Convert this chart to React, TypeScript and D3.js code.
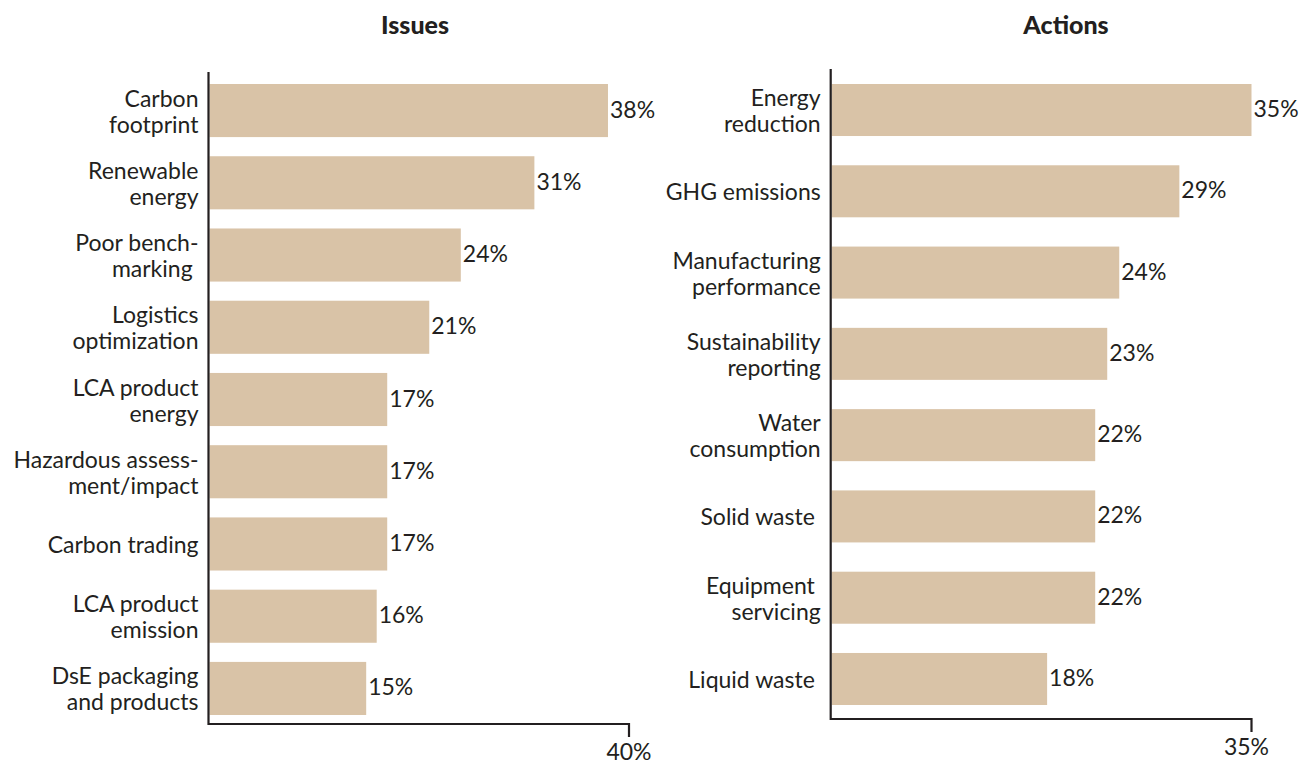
import React from "react";
import * as d3 from "d3";

const issueLabels = [
  ["Carbon", "footprint"],
  ["Renewable", "energy"],
  ["Poor bench-", "marking\u00A0"],
  ["Logistics", "optimization"],
  ["LCA product", "energy"],
  ["Hazardous assess-", "ment/impact"],
  ["Carbon trading"],
  ["LCA product", "emission"],
  ["DsE packaging", "and products"],
];
const issueValues = [38, 31, 24, 21, 17, 17, 17, 16, 15];

const actionLabels = [
  ["Energy", "reduction"],
  ["GHG emissions"],
  ["Manufacturing", "performance"],
  ["Sustainability", "reporting"],
  ["Water", "consumption"],
  ["Solid waste\u00A0"],
  ["Equipment\u00A0", "servicing"],
  ["Liquid waste\u00A0"],
];
const actionValues = [35, 29, 24, 23, 22, 22, 22, 18];

const issuesMax = 40;
const actionsMax = 35;
const tickLabelIssues = "40%";
const tickLabelActions = "35%";

const FONT = "Lato, 'Open Sans', sans-serif";
const INK = "#231f20";
const BAR = "#d9c3a7";

type PanelProps = {
  title: string;
  titleX: number;
  labels: string[][];
  values: number[];
  max: number;
  tickLabel: string;
  tickDx: number;
  x0: number;
  x1: number;
  yTop: number;
  yBottom: number;
  padding: number;
  axisTop: number;
  axisBottom: number;
};

function Panel(p: PanelProps) {
  const x = d3.scaleLinear().domain([0, p.max]).range([p.x0, p.x1]);
  const y = d3
    .scaleBand<number>()
    .domain(d3.range(p.values.length))
    .range([p.yTop, p.yBottom])
    .paddingInner(p.padding)
    .paddingOuter(0);
  const bw = y.bandwidth();
  const lineH = 26;
  const fs = 23;
  return (
    <g>
      <text
        x={p.titleX}
        y={24}
        textAnchor="middle"
        dominantBaseline="central"
        fontFamily={FONT}
        fontWeight="900"
        fontSize={25}
        fill={INK}
      >
        {p.title}
      </text>
      {p.values.map((v, i) => (
        <rect
          key={"b" + i}
          x={x(0) + 1}
          y={y(i)!}
          width={x(v) - x(0) - 1}
          height={bw}
          fill={BAR}
        />
      ))}
      {p.values.map((v, i) => (
        <text
          key={"v" + i}
          x={x(v) + 2}
          y={y(i)! + bw / 2 - 2}
          dominantBaseline="central"
          fontFamily={FONT}
          fontSize={fs}
          fill={INK}
        >
          {v + "%"}
        </text>
      ))}
      {p.labels.map((lines, i) => {
        const cy = y(i)! + bw / 2;
        const start = cy - ((lines.length - 1) * lineH) / 2;
        return (
          <text
            key={"l" + i}
            textAnchor="end"
            fontFamily={FONT}
            fontSize={fs}
            fill={INK}
            style={{ whiteSpace: "pre" }}
          >
            {lines.map((ln, j) => (
              <tspan
                key={j}
                x={x(0) - 10}
                y={start + j * lineH}
                dominantBaseline="central"
              >
                {ln}
              </tspan>
            ))}
          </text>
        );
      })}
      <path
        d={`M${x(0)},${p.axisTop}V${p.axisBottom}H${x(p.max)}V${p.axisBottom + 13}`}
        fill="none"
        stroke={INK}
        strokeWidth={2.2}
      />
      <text
        x={x(p.max) + p.tickDx}
        y={p.axisBottom + 27}
        textAnchor="middle"
        dominantBaseline="central"
        fontFamily={FONT}
        fontSize={fs}
        fill={INK}
      >
        {p.tickLabel}
      </text>
    </g>
  );
}

export default function App() {
  return (
    <svg
      width={1314}
      height={765}
      style={{ position: "absolute", left: 0, top: 0, background: "#fff" }}
    >
      <rect width={1314} height={765} fill="#fff" />
      <Panel
        title="Issues"
        titleX={415}
        labels={issueLabels}
        values={issueValues}
        max={issuesMax}
        tickLabel={tickLabelIssues}
        tickDx={0}
        x0={208.5}
        x1={629}
        yTop={84}
        yBottom={715}
        padding={0.265}
        axisTop={72}
        axisBottom={724}
      />
      <Panel
        title="Actions"
        titleX={1066}
        labels={actionLabels}
        values={actionValues}
        max={actionsMax}
        tickLabel={tickLabelActions}
        tickDx={-5}
        x0={830.7}
        x1={1251.5}
        yTop={84}
        yBottom={705}
        padding={0.36}
        axisTop={69}
        axisBottom={719}
      />
    </svg>
  );
}
